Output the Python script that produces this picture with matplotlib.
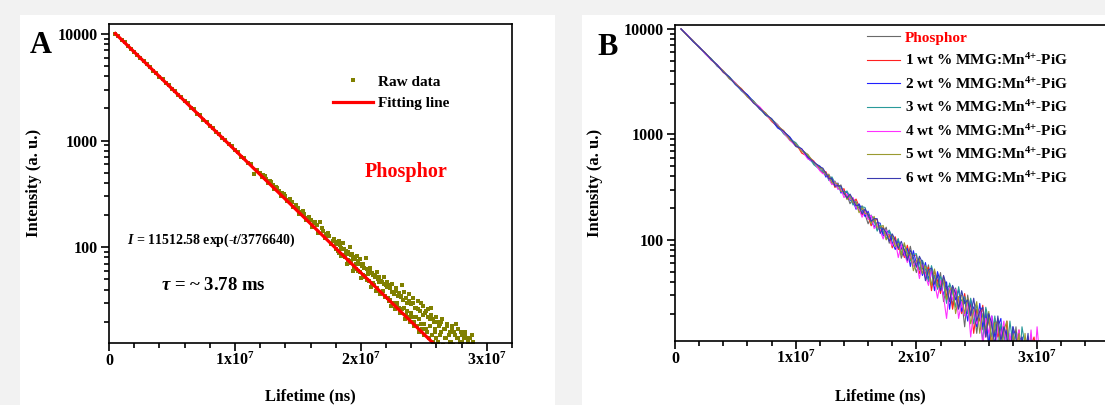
import numpy as np
import matplotlib
matplotlib.use('Agg')
import matplotlib.pyplot as plt
from matplotlib.patches import Rectangle
from matplotlib.ticker import MultipleLocator, LogLocator, NullFormatter

plt.rcParams['font.family'] = ['Liberation Serif', 'DejaVu Serif']
plt.rcParams['font.weight'] = 'bold'
plt.rcParams['mathtext.fontset'] = 'custom'
plt.rcParams['mathtext.rm'] = 'Liberation Serif:bold'
plt.rcParams['mathtext.it'] = 'Liberation Serif:italic:bold'
plt.rcParams['mathtext.bf'] = 'Liberation Serif:bold'
plt.rcParams['mathtext.default'] = 'rm'

# ---- panel A: raw decay (time in ms = 1e6 ns) ----
raw_t = [0.5, 0.75, 1.0, 1.25, 1.5, 1.75, 2.0, 2.25, 2.5, 2.75, 3.0, 3.25, 3.5, 3.75,
         4.0, 4.25, 4.5, 4.75, 5.0, 5.25, 5.5, 5.75, 6.0, 6.25, 6.5, 6.75, 7.0, 7.25,
         7.5, 7.75, 8.0, 8.25, 8.5, 8.75, 9.0, 9.25, 9.5, 9.75, 10.0, 10.25, 10.5, 10.75,
         11.0, 11.25, 11.5, 11.75, 12.0, 12.25, 12.5, 12.75, 13.0, 13.25, 13.5, 13.75,
         14.0, 14.25, 14.5, 14.75, 15.0, 15.25, 15.5, 15.75, 16.0, 16.25, 16.5, 16.75,
         17.0, 17.25, 17.5, 17.75, 18.0,
         18.1, 18.2, 18.3, 18.4, 18.5, 18.6, 18.7, 18.8, 18.9, 19.0,
         19.1, 19.2, 19.3, 19.4, 19.5, 19.6, 19.7, 19.8, 19.9, 20.0,
         20.1, 20.2, 20.3, 20.4, 20.5, 20.6, 20.7, 20.8, 20.9, 21.0,
         21.1, 21.2, 21.3, 21.4, 21.5, 21.6, 21.7, 21.8, 21.9, 22.0,
         22.1, 22.2, 22.3, 22.4, 22.5, 22.6, 22.7, 22.8, 22.9, 23.0,
         23.1, 23.2, 23.3, 23.4, 23.5, 23.6, 23.7, 23.8, 23.9, 24.0,
         24.1, 24.2, 24.3, 24.4, 24.5, 24.6, 24.7, 24.8, 24.9, 25.0,
         25.1, 25.2, 25.3, 25.4, 25.5, 25.6, 25.7, 25.8, 25.9, 26.0,
         26.1, 26.2, 26.3, 26.4, 26.5, 26.6, 26.7, 26.8, 26.9, 27.0,
         27.1, 27.2, 27.3, 27.4, 27.5, 27.6, 27.7, 27.8, 27.9, 28.0,
         28.1, 28.2, 28.3, 28.4, 28.5, 28.6, 28.7, 28.8, 28.9, 29.0,
         # in-between samples
         12.125, 12.375, 12.625, 12.875, 13.125, 13.375, 13.625, 13.875,
         14.125, 14.375, 14.625, 14.875, 15.125, 15.375, 15.625, 15.875,
         16.125, 16.375, 16.625, 16.875, 17.125, 17.375, 17.625, 17.875,
         18.05, 18.15, 18.25, 18.35, 18.45, 18.55, 18.65, 18.75, 18.85, 18.95,
         19.05, 19.15, 19.25, 19.35, 19.45, 19.55, 19.65, 19.75, 19.85, 19.95,
         20.05, 20.15, 20.25, 20.35, 20.45, 20.55, 20.65, 20.75, 20.85, 20.95,
         21.05, 21.15, 21.25, 21.35, 21.45, 21.55, 21.65, 21.75, 21.85, 21.95,
         22.05, 22.15, 22.25, 22.35, 22.45, 22.55, 22.65, 22.75, 22.85, 22.95,
         23.05, 23.15, 23.25, 23.35, 23.45, 23.55, 23.65, 23.75, 23.85, 23.95,
         24.05, 24.15, 24.25, 24.35, 24.45, 24.55, 24.65, 24.75, 24.85, 24.95,
         25.05, 25.15, 25.25, 25.35, 25.45, 25.55, 25.65, 25.75, 25.85, 25.95,
         26.05, 26.15, 26.25, 26.35, 26.45, 26.55, 26.65, 26.75, 26.85, 26.95,
         27.05, 27.15, 27.25, 27.35, 27.45, 27.55, 27.65, 27.75, 27.85, 27.95,
         28.05, 28.15, 28.25, 28.35, 28.45, 28.55, 28.65, 28.75, 28.85, 28.95]
raw_i = [10050, 9480, 8790, 8320, 7700, 7290, 6750, 6390, 5910, 5600, 5180, 4920, 4530, 4300,
         3960, 3780, 3470, 3310, 3040, 2900, 2660, 2550, 2330, 2240, 2040, 1960, 1790, 1720,
         1560, 1505, 1370, 1320, 1200, 1160, 1050, 1015, 922, 893, 808, 785, 706, 690,
         618, 606, 490, 532, 498, 470, 440, 416, 382, 366, 336, 320,
         300, 276, 264, 240, 232, 214, 204, 186, 180, 168, 160, 172,
         141, 133, 126, 113, 108,
         112, 92, 113, 82, 96, 110, 80, 87, 70, 90,
         101, 74, 86, 60, 78, 69, 83, 60, 77, 51,
         66, 69, 54, 79, 49, 56, 64, 42, 57, 46,
         55, 39, 59, 52, 38, 48, 37, 53, 34, 44,
         47, 31, 41, 28, 45, 36, 26, 39, 30, 37,
         24, 34, 44, 27, 21, 33, 25, 36, 20, 29,
         33, 18, 27, 22, 31, 16, 25, 19, 28, 15,
         24, 17, 26, 14, 21, 23, 13, 20, 16, 22,
         12, 18, 15, 20, 11, 17, 14, 19, 10, 15,
         13, 18, 11, 16, 9, 14, 17, 10, 13, 15,
         8, 14, 16, 9, 13, 10, 14, 7, 13, 10,
         # in-between samples
         455, 462, 398, 405, 350, 358, 305, 315,
         269, 281, 236, 248, 206, 220, 178, 193,
         156, 171, 136, 152, 121, 135, 106, 118,
         95, 108, 88, 104, 99, 84, 97, 80, 92, 76,
         86, 71, 84, 79, 65, 80, 62, 74, 70, 58,
         70, 55, 64, 52, 62, 61, 48, 58, 45, 55,
         44, 53, 41, 50, 47, 36, 47, 39, 45, 35,
         42, 33, 44, 32, 38, 30, 37, 41, 28, 35,
         27, 35, 26, 32, 38, 23, 30, 22, 31, 24,
         22, 30, 20, 27, 18, 26, 21, 30, 17, 23,
         19, 25, 16, 22, 18, 27, 15, 21, 17, 14,
         20, 13, 19, 16, 21, 12, 17, 14, 18, 11,
         16, 13, 17, 12, 15, 19, 11, 14, 12, 16,
         13, 9, 15, 11, 14, 8, 12, 10, 15, 9]
fit_t = [0.5, 26.6]
fit_i = [10090, 10.0]

# ---- panel B: decay curves (time in ms) ----
t_b = [0.5, 1.0, 1.5, 2.0, 2.5, 3.0, 3.5, 4.0, 4.5, 5.0, 5.5, 6.0,
       6.5, 7.0, 7.5, 8.0, 8.5, 9.0, 9.5, 10.0, 10.5, 11.0, 11.5, 12.0,
       12.25, 12.5, 12.75, 13.0, 13.25, 13.5, 13.75, 14.0, 14.25, 14.5,
       14.75, 15.0, 15.25, 15.5, 15.75, 16.0, 16.25, 16.5, 16.75, 17.0,
       17.25, 17.5, 17.75, 18.0, 18.25, 18.5, 18.75, 19.0, 19.25, 19.5,
       19.75, 20.0, 20.25, 20.5, 20.75, 21.0, 21.25, 21.5, 21.75, 22.0,
       22.25, 22.5, 22.75, 23.0, 23.25, 23.5, 23.75, 24.0, 24.25, 24.5,
       24.75, 25.0, 25.25, 25.5, 25.75, 26.0, 26.25, 26.5, 26.75, 27.0,
       27.25, 27.5, 27.75, 28.0, 28.25, 28.5, 28.75, 29.0, 29.25, 29.5,
       29.75, 30.0, 30.25, 30.5]

phosphor = [10000, 8800, 7582, 6782, 5858, 5236, 4463, 3962, 3370, 3078, 2673, 2294,
            2083, 1772, 1521, 1392, 1241, 1021, 920, 769, 719, 641, 530, 479,
            471, 406, 398, 338, 361, 319, 332, 268, 268, 220,
            248, 224, 189, 211, 174, 142, 166, 163, 125, 132,
            114, 132, 93, 108, 92, 99, 67, 82, 67, 87,
            62, 49, 65, 54, 44, 58, 37, 46, 37, 49,
            26, 35, 37, 24, 35, 23, 27, 15, 30, 20,
            23, 13, 22, 14, 22, 9, 17, 13, 18, 6,
            15, 10, 12, 7, 15, 7, 11, 9, 12, 4,
            9, 6, 11, 6]
wt1 = [10000, 8685, 7705, 6704, 5965, 5085, 4530, 3868, 3507, 3024, 2721, 2330,
       1998, 1818, 1580, 1329, 1190, 1088, 899, 825, 665, 619, 560, 461,
       431, 444, 386, 378, 314, 336, 293, 306, 247, 249,
       221, 244, 208, 172, 192, 170, 136, 154, 156, 119,
       133, 111, 112, 84, 107, 81, 86, 68, 89, 65,
       71, 72, 48, 58, 48, 55, 33, 51, 41, 31,
       45, 29, 35, 22, 33, 27, 20, 31, 20, 25,
       13, 22, 17, 24, 12, 18, 9, 18, 12, 15,
       8, 17, 9, 12, 7, 14, 8, 11, 5, 10,
       12, 7, 5, 10]
wt2 = [10000, 8788, 7758, 6646, 5895, 5193, 4430, 4007, 3466, 2992, 2630, 2382,
       2052, 1738, 1591, 1377, 1151, 1063, 950, 795, 722, 593, 534, 501,
       454, 394, 413, 368, 330, 346, 278, 290, 281, 238,
       236, 195, 220, 193, 166, 187, 154, 133, 146, 144,
       109, 118, 122, 95, 81, 98, 85, 71, 83, 56,
       79, 59, 62, 46, 61, 43, 51, 33, 50, 39,
       30, 40, 22, 35, 27, 34, 21, 27, 17, 27,
       22, 15, 25, 15, 20, 10, 19, 12, 15, 18,
       8, 14, 10, 15, 6, 11, 12, 6, 11, 8,
       5, 10, 6, 8]
wt3 = [10000, 8741, 7617, 6810, 5803, 5172, 4564, 3925, 3531, 3058, 2584, 2315,
       2061, 1797, 1529, 1407, 1221, 1015, 902, 837, 708, 638, 516, 465,
       441, 432, 365, 396, 347, 304, 312, 276, 291, 255,
       214, 230, 195, 206, 203, 158, 172, 151, 121, 140,
       122, 102, 124, 106, 91, 103, 74, 90, 75, 63,
       73, 74, 52, 64, 53, 40, 57, 44, 34, 45,
       39, 25, 39, 32, 23, 36, 24, 29, 20, 28,
       16, 24, 19, 11, 23, 17, 12, 19, 9, 16,
       13, 8, 17, 10, 13, 6, 15, 10, 7, 12,
       5, 9, 11, 6]
wt4 = [10000, 8845, 7644, 6761, 5826, 5071, 4577, 3988, 3431, 3096, 2640, 2277,
       2012, 1835, 1572, 1348, 1232, 1044, 878, 786, 714, 586, 553, 452,
       424, 423, 377, 334, 354, 302, 303, 252, 272, 241,
       252, 201, 196, 164, 187, 156, 171, 128, 141, 122,
       102, 124, 100, 88, 99, 68, 90, 74, 61, 72,
       56, 64, 43, 60, 46, 37, 52, 40, 28, 41,
       29, 18, 35, 27, 34, 18, 26, 19, 26, 12,
       22, 16, 22, 10, 18, 13, 19, 8, 16, 12,
       17, 8, 13, 7, 11, 14, 6, 11, 7, 14,
       6, 15, 7, 8]
wt5 = [10000, 8713, 7732, 6671, 5949, 5157, 4490, 4019, 3401, 3047, 2691, 2262,
       2039, 1755, 1607, 1359, 1214, 1079, 890, 811, 690, 648, 541, 487,
       464, 411, 420, 348, 347, 340, 288, 288, 241, 266,
       228, 226, 181, 201, 177, 179, 142, 167, 132, 133,
       137, 100, 109, 111, 86, 93, 72, 94, 71, 75,
       51, 63, 67, 48, 57, 49, 37, 53, 36, 36,
       43, 27, 33, 36, 20, 29, 30, 20, 28, 16,
       21, 26, 13, 20, 14, 21, 10, 16, 17, 9,
       14, 17, 6, 13, 9, 13, 6, 13, 7, 9,
       11, 5, 9, 7]
wt6 = [10000, 8769, 7591, 6745, 5919, 5121, 4570, 3900, 3495, 2970, 2660, 2354,
       1985, 1784, 1544, 1414, 1176, 1069, 941, 778, 733, 609, 548, 494,
       479, 428, 379, 384, 323, 327, 322, 278, 249, 272,
       241, 210, 215, 176, 197, 173, 150, 159, 159, 115,
       129, 117, 97, 114, 100, 83, 97, 79, 64, 80,
       68, 55, 70, 61, 41, 52, 54, 38, 46, 33,
       46, 36, 26, 37, 31, 22, 33, 25, 27, 19,
       28, 17, 21, 23, 12, 20, 16, 10, 19, 11,
       15, 12, 8, 15, 12, 7, 12, 8, 13, 6,
       9, 7, 10, 5]

series_b = [phosphor, wt1, wt2, wt3, wt4, wt5, wt6]
labels_b = ['Phosphor'] + ['%d wt %% MMG:Mn$^{4{+}}$-PiG' % n for n in range(1, 7)]
colors_b = ['#6a6a6a', '#ff2020', '#2020ff', '#2a9a9a', '#ff30ff', '#9a9a30', '#3a3ab0']

W, H = 1105, 405


def fig_rect(x0, y0, x1, y1):
    # pixel box (top-left origin) -> figure fraction [left, bottom, width, height]
    return [x0 / W, 1 - y1 / H, (x1 - x0) / W, (y1 - y0) / H]


def style_axes(ax, xmax, ylim):
    ax.set_yscale('log')
    ax.set_xlim(0, xmax)
    ax.set_ylim(*ylim)
    ax.set_xticks([0, 1e7, 2e7, 3e7])
    ax.set_xticklabels(['0', '1x10$^{7}$', '2x10$^{7}$', '3x10$^{7}$'])
    ax.xaxis.set_minor_locator(MultipleLocator(2e6))
    ax.set_yticks([100, 1000, 10000])
    ax.set_yticklabels(['100', '1000', '10000'])
    ax.yaxis.set_minor_locator(LogLocator(base=10, subs=range(2, 10)))
    ax.yaxis.set_minor_formatter(NullFormatter())
    ax.tick_params(which='both', direction='out', top=False, right=False, width=1.2,
                   labelsize=11.5)
    ax.tick_params(which='major', length=6)
    ax.tick_params(which='minor', length=3.5)
    ax.tick_params(axis='y', pad=2)
    ax.tick_params(axis='x', pad=9.5)
    for lab in ax.get_xticklabels():
        lab.set_va('baseline')
    for s in ax.spines.values():
        s.set_linewidth(1.2)


fig = plt.figure(figsize=(W / 100, H / 100), dpi=100, facecolor='#f2f2f2')
for x0, x1 in [(20, 555), (582, 1110)]:
    fig.patches.append(Rectangle((x0 / W, 0), (x1 - x0) / W, 390 / H,
                                 transform=fig.transFigure, facecolor='white',
                                 edgecolor='none', zorder=-5))

# Panel A
axA = fig.add_axes(fig_rect(109, 24, 512, 343))
axA.plot(np.array(raw_t) * 1e6, raw_i, ls='none', marker='s', ms=2.6, mew=0,
         color='#808000', label='Raw data')
axA.plot(np.array(fit_t) * 1e6, fit_i, color='#ff0000', lw=2.3, label='Fitting line')
style_axes(axA, 3.2e7, (12.6, 12400))
axA.legend(loc='upper left', bbox_to_anchor=(0.556, 0.84), frameon=False, fontsize=11,
           borderpad=0, borderaxespad=0, handlelength=2.6, handletextpad=0.35,
           labelspacing=0.5, numpoints=1)
fig.text(406 / W, 1 - 172 / H, 'Phosphor', color='#ff0000', fontsize=14.5,
         ha='center', va='center')
fig.text(127 / W, 1 - 240 / H, '$\\it{I}$ = 11512.58 exp(-$\\it{t}$/3776640)',
         fontsize=10, ha='left', va='center')
fig.text(161 / W, 1 - 285 / H, '$\\it{\\tau}$ = ~ 3.78 ms', fontsize=13.5,
         ha='left', va='center')

# Panel B
axB = fig.add_axes(fig_rect(675, 25, 1109.5, 341))
for y, lab, c in zip(series_b, labels_b, colors_b):
    axB.plot(np.array(t_b) * 1e6, y, color=c, lw=0.8, label=lab)
style_axes(axB, 3.6e7, (11, 10900))
leg = axB.legend(loc='upper left', bbox_to_anchor=(0.442, 0.981), frameon=False,
                 fontsize=11, borderpad=0, borderaxespad=0, handlelength=2.15,
                 handletextpad=0.35, labelspacing=0.5)
leg.get_texts()[0].set_color('#ff0000')

# panel letters and axis titles
fig.text(30 / W, 1 - 53 / H, 'A', fontsize=22, ha='left', va='baseline')
fig.text(597 / W, 1 - 55 / H, 'B', fontsize=22, ha='left', va='baseline')
for x in (34, 595):
    fig.text(x / W, 1 - 183 / H, 'Intensity (a. u.)', rotation=90, fontsize=12,
             ha='center', va='center')
for x in (310, 880):
    fig.text(x / W, 1 - 396 / H, 'Lifetime (ns)', fontsize=12, ha='center', va='center')

fig.savefig('out.png', dpi=100, facecolor=fig.get_facecolor())
